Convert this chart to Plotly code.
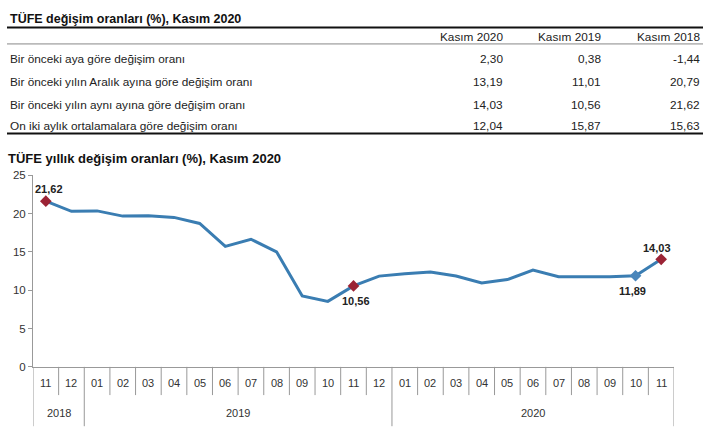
import plotly.graph_objects as go

# ---------------------------------------------------------------
# data
table_cols = ["Kasım 2020", "Kasım 2019", "Kasım 2018"]
table_rows = [
    "Bir önceki aya göre değişim oranı",
    "Bir önceki yılın Aralık ayına göre değişim oranı",
    "Bir önceki yılın aynı ayına göre değişim oranı",
    "On iki aylık ortalamalara göre değişim oranı",
]
table_vals = [
    ["2,30", "0,38", "-1,44"],
    ["13,19", "11,01", "20,79"],
    ["14,03", "10,56", "21,62"],
    ["12,04", "15,87", "15,63"],
]

months = ["11", "12", "01", "02", "03", "04", "05", "06", "07", "08", "09", "10", "11",
          "12", "01", "02", "03", "04", "05", "06", "07", "08", "09", "10", "11"]
years = [("2018", 0, 1), ("2019", 2, 13), ("2020", 14, 24)]
tufe = [21.62, 20.30, 20.35, 19.67, 19.71, 19.50, 18.71, 15.72, 16.65, 15.01, 9.26, 8.55,
        10.56, 11.84, 12.15, 12.37, 11.86, 10.94, 11.39, 12.62, 11.76, 11.77, 11.75, 11.89, 14.03]
red_pts = [0, 12, 24]
blue_pts = [23]

# ---------------------------------------------------------------
W, H = 707, 440
FONT = "Liberation Sans, Arial, sans-serif"
line_blue = "#3a7db2"
dark_red = "#9b2335"


def py(p):
    return (H - p) / H


def px_(p):
    return p / W


x = list(range(len(months)))

fig = go.Figure()
fig.add_trace(go.Scatter(x=x, y=tufe, mode="lines", line=dict(color=line_blue, width=3),
                         hoverinfo="skip", showlegend=False))
fig.add_trace(go.Scatter(x=[x[i] for i in red_pts], y=[tufe[i] for i in red_pts], mode="markers",
                         marker=dict(symbol="diamond", size=9, color=dark_red),
                         showlegend=False))
fig.add_trace(go.Scatter(x=[x[i] for i in blue_pts], y=[tufe[i] for i in blue_pts], mode="markers",
                         marker=dict(symbol="diamond", size=9, color="#4a86bb"),
                         showlegend=False))

ann = []
shapes = []

# titles
ann.append(dict(text="<b>TÜFE değişim oranları (%), Kasım 2020</b>", x=px_(8), y=py(13),
                xref="paper", yref="paper", xanchor="left", yanchor="middle", showarrow=False,
                font=dict(size=12.5, color="#111")))
ann.append(dict(text="<b>TÜFE yıllık değişim oranları (%), Kasım 2020</b>", x=px_(6), y=py(157),
                xref="paper", yref="paper", xanchor="left", yanchor="middle", showarrow=False,
                font=dict(size=13, color="#111")))

# table
col_right = [505, 603, 702]
for c, name in zip(col_right, table_cols):
    ann.append(dict(text=name, x=px_(c), y=py(32), xref="paper", yref="paper",
                    xanchor="right", yanchor="middle", showarrow=False,
                    font=dict(size=11.8, color="#222")))
row_y = [54, 78, 102, 123]
for ry, label, vals in zip(row_y, table_rows, table_vals):
    ann.append(dict(text=label, x=px_(8), y=py(ry), xref="paper", yref="paper",
                    xanchor="left", yanchor="middle", showarrow=False,
                    font=dict(size=11.8, color="#222")))
    for c, v in zip(col_right, vals):
        ann.append(dict(text=v, x=px_(c), y=py(ry), xref="paper", yref="paper",
                        xanchor="right", yanchor="middle", showarrow=False,
                        font=dict(size=11.8, color="#222")))

shapes.append(dict(type="line", xref="paper", yref="paper", x0=px_(7), x1=px_(703),
                   y0=py(22), y1=py(22), line=dict(color="#111", width=2)))
shapes.append(dict(type="line", xref="paper", yref="paper", x0=px_(7), x1=px_(703),
                   y0=py(39), y1=py(39), line=dict(color="#888", width=1)))
shapes.append(dict(type="line", xref="paper", yref="paper", x0=px_(7), x1=px_(703),
                   y0=py(131), y1=py(131), line=dict(color="#111", width=2)))

# category axis: month labels, dividers, years
for i, m in enumerate(months):
    ann.append(dict(text=m, x=i, y=py(388), xref="x", yref="paper", xanchor="center",
                    yanchor="middle", showarrow=False, font=dict(size=11, color="#333")))
year_edges = set()
for _, a, b in years:
    year_edges.add(a - 0.5)
    year_edges.add(b + 0.5)
for i in range(len(months) + 1):
    xe = i - 0.5
    bottom = 432 if xe in year_edges else 400
    shapes.append(dict(type="line", xref="x", yref="paper", x0=xe, x1=xe,
                       y0=py(371), y1=py(bottom), line=dict(color="#999", width=1)))
for name, a, b in years:
    ann.append(dict(text=name, x=(a + b) / 2, y=py(418), xref="x", yref="paper",
                    xanchor="center", yanchor="middle", showarrow=False,
                    font=dict(size=11, color="#333")))

# data labels (offsets in px: right, down)
lab = [(0, "21,62", 3, -12), (12, "10,56", 2, 15), (23, "11,89", -3, 15), (24, "14,03", -4, -11)]
for i, t, dx, dy in lab:
    ann.append(dict(text="<b>" + t + "</b>", x=i, y=tufe[i], xref="x", yref="y",
                    xshift=dx, yshift=-dy, showarrow=False,
                    font=dict(size=11, color="#222")))

fig.update_layout(
    width=W, height=H,
    margin=dict(l=0, r=0, t=0, b=0),
    paper_bgcolor="white", plot_bgcolor="white",
    font=dict(family=FONT, color="#333"),
    annotations=ann, shapes=shapes,
    xaxis=dict(domain=[px_(33), px_(674)], range=[-0.5, len(months) - 0.5],
               showticklabels=False, showgrid=False, zeroline=False,
               showline=True, linecolor="#999", linewidth=1, anchor="y"),
    yaxis=dict(domain=[py(371), py(174)], range=[0, 25], dtick=5,
               showgrid=False, zeroline=False, showline=True, linecolor="#999", linewidth=1,
               ticks="outside", ticklen=4, tickcolor="#999",
               tickfont=dict(size=11.5, color="#333")),
)

# page body has a default margin; drop it so the figure fills the window
fig.write_html("out.html", config={"displayModeBar": False},
               post_script="document.body.style.margin='0';document.body.style.overflow='hidden';")
